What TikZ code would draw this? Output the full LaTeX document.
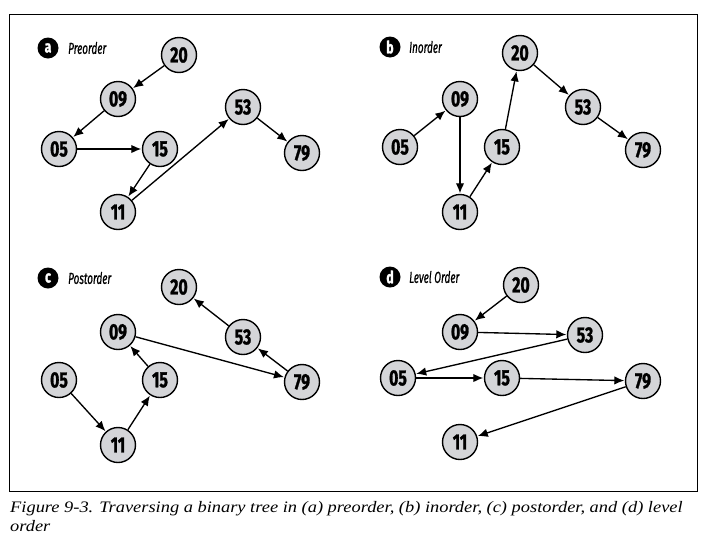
\documentclass[tikz,border=0pt]{standalone}
\usepackage{fontspec}
\setmainfont{Liberation Serif}
\newfontfamily\capfont[FakeStretch=1.15]{Liberation Serif}
\newfontfamily\numfont[FakeStretch=0.72, BoldFeatures={FakeBold=1.2}]{Fira Sans}
\newfontfamily\titfont[FakeStretch=0.62, ItalicFeatures={FakeBold=0.6}]{Fira Sans}
\usetikzlibrary{arrows.meta}
\definecolor{nodegray}{RGB}{212,213,216}
\tikzset{
  tnode/.style={circle, draw=black, line width=1.4pt, fill=nodegray, minimum size=35pt, inner sep=0pt,
    font=\numfont\fontsize{22}{22}\selectfont\bfseries},
  trav/.style={line width=1.35pt, -{Latex[length=10pt,width=8.5pt]}, shorten >=0.5pt},
  badge/.style={circle, fill=black, minimum size=21pt, inner sep=0pt, text=white,
    font=\numfont\fontsize{17}{17}\selectfont\bfseries},
  ptitle/.style={anchor=west, inner sep=0pt, font=\titfont\fontsize{16}{16}\selectfont\itshape}
}
\begin{document}
\begin{tikzpicture}[x=1pt,y=-1pt]
\useasboundingbox (0,0) rectangle (709,544);
\fill[white] (0,0) rectangle (709,544);
\draw[line width=1pt] (9,14) rectangle (697,491);

% panel a
\node[badge] (ba) at (48,48) {a};
\node[ptitle] (ta) at (68,48) {Preorder};
\node[tnode] (a20) at (179,55) {20};
\node[tnode] (a09) at (118,99) {09};
\node[tnode] (a05) at (59,149) {05};
\node[tnode] (a15) at (160,149) {15};
\node[tnode] (a11) at (118,212) {11};
\node[tnode] (a53) at (243,107) {53};
\node[tnode] (a79) at (302,153) {79};
\draw[trav] (a20) -- (a09);
\draw[trav] (a09) -- (a05);
\draw[trav] (a05) -- (a15);
\draw[trav] (a15) -- (a11);
\draw[trav] (a11) -- (a53);
\draw[trav] (a53) -- (a79);

% panel b
\node[badge] (bb) at (390,47) {b};
\node[ptitle] (tb) at (409,47) {Inorder};
\node[tnode] (b20) at (520,53) {20};
\node[tnode] (b09) at (460,99) {09};
\node[tnode] (b05) at (400,147) {05};
\node[tnode] (b15) at (502,147) {15};
\node[tnode] (b11) at (460,212) {11};
\node[tnode] (b53) at (583,107) {53};
\node[tnode] (b79) at (643,150) {79};
\draw[trav] (b05) -- (b09);
\draw[trav] (b09) -- (b11);
\draw[trav] (b11) -- (b15);
\draw[trav] (b15) -- (b20);
\draw[trav] (b20) -- (b53);
\draw[trav] (b53) -- (b79);

% panel c
\node[badge] (bc) at (48,278) {c};
\node[ptitle] (tc) at (68,278) {Postorder};
\node[tnode] (c20) at (179,287) {20};
\node[tnode] (c09) at (118,332) {09};
\node[tnode] (c05) at (59,380) {05};
\node[tnode] (c15) at (160,380) {15};
\node[tnode] (c11) at (118,445) {11};
\node[tnode] (c53) at (243,337) {53};
\node[tnode] (c79) at (302,382) {79};
\draw[trav] (c05) -- (c11);
\draw[trav] (c11) -- (c15);
\draw[trav] (c15) -- (c09);
\draw[trav] (c09) -- (c79);
\draw[trav] (c79) -- (c53);
\draw[trav] (c53) -- (c20);

% panel d
\node[badge] (bd) at (390,277) {d};
\node[ptitle] (td) at (409,277) {Level Order};
\node[tnode] (d20) at (521,285) {20};
\node[tnode] (d09) at (460,332) {09};
\node[tnode] (d53) at (585,335) {53};
\node[tnode] (d05) at (398,378) {05};
\node[tnode] (d15) at (502,378) {15};
\node[tnode] (d79) at (643,381) {79};
\node[tnode] (d11) at (460,442) {11};
\draw[trav] (d20) -- (d09);
\draw[trav] (d09) -- (d53);
\draw[trav] (d53) -- (d05);
\draw[trav] (d05) -- (d15);
\draw[trav] (d15) -- (d79);
\draw[trav] (d79) -- (d11);

% caption
\node[anchor=north west, align=left, inner sep=0pt, font=\capfont\fontsize{16}{19.5}\selectfont\itshape] (cap) at (10,501)
  {Figure 9-3. Traversing a binary tree in (a) preorder, (b) inorder, (c) postorder, and (d) level\\order};
\end{tikzpicture}
\end{document}
